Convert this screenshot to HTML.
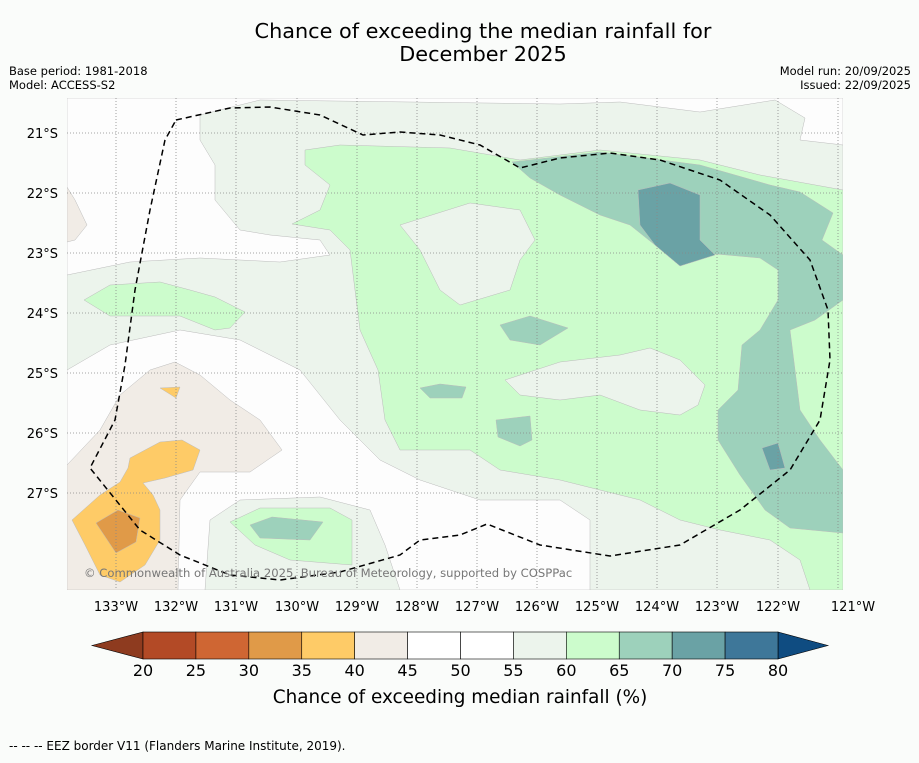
<!DOCTYPE html>
<html><head><meta charset="utf-8"><style>
body{margin:0;background:#fafcfa;font-family:"Liberation Sans","DejaVu Sans",sans-serif;}
svg text{font-family:"DejaVu Sans","Liberation Sans",sans-serif;}
</style></head><body>
<svg width="919" height="758" viewBox="0 0 919 758" xmlns="http://www.w3.org/2000/svg">
<rect width="919" height="758" fill="#fafcfa"/>
<text x="483" y="38" font-size="20.8" text-anchor="middle" fill="#000">Chance of exceeding the median rainfall for</text>
<text x="483" y="61" font-size="20.8" text-anchor="middle" fill="#000">December 2025</text>
<text x="9" y="75" font-size="11.5">Base period: 1981-2018</text>
<text x="9" y="89" font-size="11.5">Model: ACCESS-S2</text>
<text x="911" y="75" font-size="11.5" text-anchor="end">Model run: 20/09/2025</text>
<text x="911" y="89" font-size="11.5" text-anchor="end">Issued: 22/09/2025</text>
<defs><clipPath id="mc"><rect x="67" y="98" width="776" height="492"/></clipPath></defs>
<g clip-path="url(#mc)" stroke="#bbb" stroke-width="0.5">
<rect x="67" y="98" width="776" height="492" fill="#fdfdfd"/>
<path fill="#ecf4ec" d="M200,115 L260,100 L560,104 L620,102 L700,112 L775,100 L805,118 L800,140 L843,145 L843,590 L590,590 L590,520 L560,500 L480,500 L420,480 L380,460 L340,420 L300,370 L240,340 L180,330 L110,345 L67,370 L67,275 L130,262 L200,258 L280,262 L330,255 L320,240 L270,235 L240,230 L215,200 L215,165 L200,140 Z"/>
<path fill="#ecf4ec" d="M205,590 L210,520 L240,500 L320,497 L370,510 L385,545 L400,590 Z"/>
<path fill="#ccfccc" d="M305,150 L340,145 L450,148 L520,160 L600,150 L700,160 L760,175 L843,190 L843,590 L810,590 L800,560 L770,540 L720,530 L680,520 L640,500 L600,490 L560,480 L500,470 L470,450 L400,450 L385,420 L378,370 L360,330 L355,290 L350,250 L330,230 L292,224 L320,210 L330,185 L305,165 Z"/>
<path fill="#ccfccc" d="M84,300 L110,285 L160,282 L190,290 L215,297 L245,312 L230,328 L215,330 L180,316 L140,316 L110,316 Z"/>
<path fill="#ccfccc" d="M230,522 L260,508 L330,508 L352,520 L352,565 L290,560 L255,545 Z"/>
<path fill="#ecf4ec" d="M400,225 L470,203 L520,210 L535,240 L520,260 L510,290 L460,305 L440,290 L420,250 Z"/>
<path fill="#ecf4ec" d="M505,380 L560,362 L620,355 L650,348 L680,360 L705,385 L698,405 L680,415 L640,410 L600,395 L560,400 L520,395 Z"/>
<path fill="#9dd1bb" d="M512,162 L600,152 L700,165 L770,185 L800,192 L833,213 L822,240 L843,255 L843,300 L815,320 L790,330 L795,370 L800,410 L820,440 L843,470 L843,533 L790,528 L765,510 L740,475 L718,440 L718,410 L738,390 L742,345 L760,330 L778,300 L778,270 L760,258 L716,254 L680,266 L655,245 L630,225 L600,215 L560,195 L530,178 Z"/>
<path fill="#9dd1bb" d="M500,325 L530,316 L568,328 L540,345 L510,340 Z"/>
<path fill="#9dd1bb" d="M420,388 L440,384 L466,387 L462,398 L430,398 Z"/>
<path fill="#9dd1bb" d="M496,420 L530,416 L532,440 L520,446 L498,437 Z"/>
<path fill="#9dd1bb" d="M250,525 L272,517 L323,522 L310,540 L260,538 Z"/>
<path fill="#6aa2a5" d="M638,190 L670,183 L700,195 L700,240 L715,255 L680,266 L655,245 L640,225 Z"/>
<path fill="#6aa2a5" d="M762,448 L778,443 L785,468 L770,470 Z"/>
<path fill="#f1ece6" d="M67,465 L100,430 L120,395 L150,370 L175,362 L200,375 L230,400 L260,420 L282,450 L250,472 L200,472 L180,500 L178,590 L67,590 Z"/>
<path fill="#f1ece6" d="M67,187 L75,200 L87,225 L75,240 L67,242 Z"/>
<path fill="#fecb67" d="M72,520 L100,495 L120,482 L128,468 L130,458 L160,442 L182,440 L200,450 L193,470 L165,478 L143,483 L153,495 L160,510 L160,540 L145,565 L120,582 L100,575 L85,545 Z"/>
<path fill="#fecb67" d="M160,388 L180,387 L176,398 Z"/>
<path fill="#e09a48" d="M96,523 L118,510 L140,518 L136,542 L116,553 Z"/>
</g>
<g stroke="#888" stroke-width="0.8" stroke-dasharray="1,2">
<line x1="116" y1="98" x2="116" y2="590"/><line x1="176" y1="98" x2="176" y2="590"/><line x1="236" y1="98" x2="236" y2="590"/><line x1="297" y1="98" x2="297" y2="590"/><line x1="357" y1="98" x2="357" y2="590"/><line x1="417" y1="98" x2="417" y2="590"/><line x1="477" y1="98" x2="477" y2="590"/><line x1="537" y1="98" x2="537" y2="590"/><line x1="597" y1="98" x2="597" y2="590"/><line x1="657" y1="98" x2="657" y2="590"/><line x1="717" y1="98" x2="717" y2="590"/><line x1="778" y1="98" x2="778" y2="590"/><line x1="838" y1="98" x2="838" y2="590"/>
<line x1="67" y1="133" x2="843" y2="133"/><line x1="67" y1="193" x2="843" y2="193"/><line x1="67" y1="253" x2="843" y2="253"/><line x1="67" y1="313" x2="843" y2="313"/><line x1="67" y1="373" x2="843" y2="373"/><line x1="67" y1="433" x2="843" y2="433"/><line x1="67" y1="493" x2="843" y2="493"/>
</g>
<path fill="none" stroke="#000" stroke-width="1.5" stroke-dasharray="6,4" d="M176,120 L230,108 L270,107 L320,115 L363,135 L400,132 L440,135 L480,145 L520,168 L560,158 L610,153 L660,160 L720,180 L770,215 L810,260 L828,310 L830,360 L820,420 L790,470 L740,510 L680,545 L610,556 L540,545 L487,524 L460,535 L420,540 L400,555 L340,572 L280,580 L230,575 L180,555 L140,530 L90,468 L115,420 L125,365 L135,290 L150,210 L165,140 Z"/>
<text x="84" y="577" font-size="11.6" fill="#777">© Commonwealth of Australia 2025, Bureau of Meteorology, supported by COSPPac</text>
<g font-size="13" fill="#000">
<text x="58" y="138" text-anchor="end">21°S</text><text x="58" y="198" text-anchor="end">22°S</text><text x="58" y="258" text-anchor="end">23°S</text><text x="58" y="318" text-anchor="end">24°S</text><text x="58" y="378" text-anchor="end">25°S</text><text x="58" y="438" text-anchor="end">26°S</text><text x="58" y="498" text-anchor="end">27°S</text>
</g>
<g font-size="13" fill="#000" text-anchor="middle">
<text x="116" y="611">133°W</text><text x="176" y="611">132°W</text><text x="236" y="611">131°W</text><text x="297" y="611">130°W</text><text x="357" y="611">129°W</text><text x="417" y="611">128°W</text><text x="477" y="611">127°W</text><text x="537" y="611">126°W</text><text x="597" y="611">125°W</text><text x="657" y="611">124°W</text><text x="717" y="611">123°W</text><text x="778" y="611">122°W</text><text x="853" y="611">121°W</text>
</g>
<g id="cbar"></g>
<text x="460" y="703" font-size="18.4" text-anchor="middle">Chance of exceeding median rainfall (%)</text>
<text x="9" y="750" font-size="12">--  --  -- EEZ border V11 (Flanders Marine Institute, 2019).</text>
</svg>
<script>
const levels=[20,25,30,35,40,45,50,55,60,65,70,75,80];
const binColors=["#b34a26","#cf6633","#e09a48","#fecb67","#f1ece6","#ffffff","#ffffff","#ecf4ec","#ccfccc","#9dd1bb","#6aa2a5","#3e7799"];
const extColors=["#8e3b1f","#0f4c81"];
const NS="http://www.w3.org/2000/svg";
const g=document.getElementById('cbar');
const x0=143,x1=778,y0=632,h=27;
const sx=v=>x0+(v-levels[0])/(levels[levels.length-1]-levels[0])*(x1-x0);
function mk(t,a){const e=document.createElementNS(NS,t);for(const k in a)e.setAttribute(k,a[k]);g.appendChild(e);return e;}
const lt=mk('polygon',{points:`92,${y0+h/2} ${x0},${y0} ${x0},${y0+h}`,fill:extColors[0],stroke:'#000','stroke-width':0.6});


const rt=mk('polygon',{points:`828,${y0+h/2} ${x1},${y0} ${x1},${y0+h}`,fill:extColors[1],stroke:'#000','stroke-width':0.6});


for(let i=0;i<binColors.length;i++){
 const r=mk('rect',{x:sx(levels[i]),y:y0,width:sx(levels[i+1])-sx(levels[i]),height:h,fill:binColors[i],stroke:'#000','stroke-width':0.6});
 
 
}
levels.forEach(v=>{
 const t=mk('text',{x:sx(v),y:676,'font-size':16,'text-anchor':'middle'});
 t.textContent=v;
 
 
});
</script>
</body></html>
